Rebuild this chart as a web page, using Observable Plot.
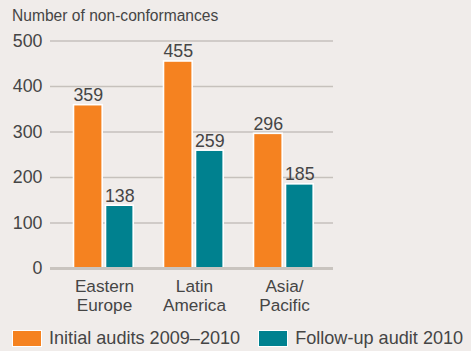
<!DOCTYPE html>
<html>
<head>
<meta charset="utf-8">
<script src="https://cdn.jsdelivr.net/npm/d3@7"></script>
<script src="https://cdn.jsdelivr.net/npm/@observablehq/plot@0.6"></script>
<style>
  html, body { margin: 0; padding: 0; background: #f0ecea; }
  body { width: 471px; height: 351px; overflow: hidden; font-family: "Liberation Sans", Arial, sans-serif; color: #454545; }
  #chart svg { display: block; background: #f0ecea; }
  #legend { position: relative; height: 33px; padding-top: 4px; box-sizing: content-box; display: flex; align-items: center; padding-left: 12px; font-size: 18.1px; color: #454545; }
  .item { display: flex; align-items: center; }
  .sw { width: 28px; height: 15px; border: 1.5px solid #fff; margin-right: 7px; }
</style>
</head>
<body>
<div id="chart"></div>
<div id="legend"></div>
<script>
const categories = ["Eastern Europe", "Latin America", "Asia/Pacific"];
const categoryLabels = ["Eastern\nEurope", "Latin\nAmerica", "Asia/\nPacific"];
const seriesNames = ["Initial audits 2009–2010", "Follow-up audit 2010"];
const initialAudits = [359, 455, 296];
const followUpAudits = [138, 259, 185];
const yTicks = [0, 100, 200, 300, 400, 500];
const colors = ["#f58220", "#00818f"];
const yTitle = "Number of non-conformances";

const dataInitial = categories.map((c, i) => ({category: c, value: initialAudits[i]}));
const dataFollow = categories.map((c, i) => ({category: c, value: followUpAudits[i]}));
const labelData = categories.map((c, i) => ({category: c, label: categoryLabels[i]}));

const textColor = "#454545";
const font = "Liberation Sans, Arial, sans-serif";

const chart = Plot.plot({
  width: 471,
  height: 318,
  marginLeft: 50,
  marginRight: 138,
  marginTop: 40.5,
  marginBottom: 50,
  style: {background: "#f0ecea", fontFamily: font, color: textColor},
  x: {domain: categories, range: [58, 329], padding: 0, axis: null},
  y: {domain: [0, 500], axis: null},
  marks: [
    Plot.gridY(yTicks.filter(d => d > 0), {stroke: "#c6c1bc", strokeOpacity: 1, strokeWidth: 1.3}),
    Plot.axisY(yTicks, {tickSize: 0, tickPadding: 8, fontSize: 17.8, fill: textColor, label: null}),
    Plot.text([yTitle], {frameAnchor: "top-left", dx: -38.5, dy: -31, textAnchor: "start", fontSize: 15.6, fill: textColor}),
    Plot.barY(dataInitial, {x: "category", y: "value", fill: colors[0], stroke: "#fff", strokeWidth: 1.6, insetLeft: 14.5, insetRight: 46.8}),
    Plot.barY(dataFollow, {x: "category", y: "value", fill: colors[1], stroke: "#fff", strokeWidth: 1.6, insetLeft: 46.5, insetRight: 15.8}),
    Plot.ruleY([0], {stroke: "#c9c4bf", strokeWidth: 3}),
    Plot.text(dataInitial, {x: "category", y: "value", text: d => String(d.value), dx: -16.2, dy: -4, lineAnchor: "bottom", fontSize: 17.8, fill: textColor}),
    Plot.text(dataFollow, {x: "category", y: "value", text: d => String(d.value), dx: 15.3, dy: -4, lineAnchor: "bottom", fontSize: 17.8, fill: textColor}),
    Plot.text(labelData, {x: "category", text: "label", frameAnchor: "bottom", lineAnchor: "top", dy: 10, lineHeight: 1.12, fontSize: 17.2, fill: textColor})
  ]
});
document.getElementById("chart").append(chart);

const legend = document.getElementById("legend");
seriesNames.forEach((name, i) => {
  const item = document.createElement("div");
  item.className = "item";
  if (i > 0) item.style.marginLeft = "18px";
  const sw = document.createElement("span");
  sw.className = "sw";
  sw.style.background = colors[i];
  const t = document.createElement("span");
  t.textContent = name;
  item.append(sw, t);
  legend.append(item);
});
</script>
</body>
</html>
